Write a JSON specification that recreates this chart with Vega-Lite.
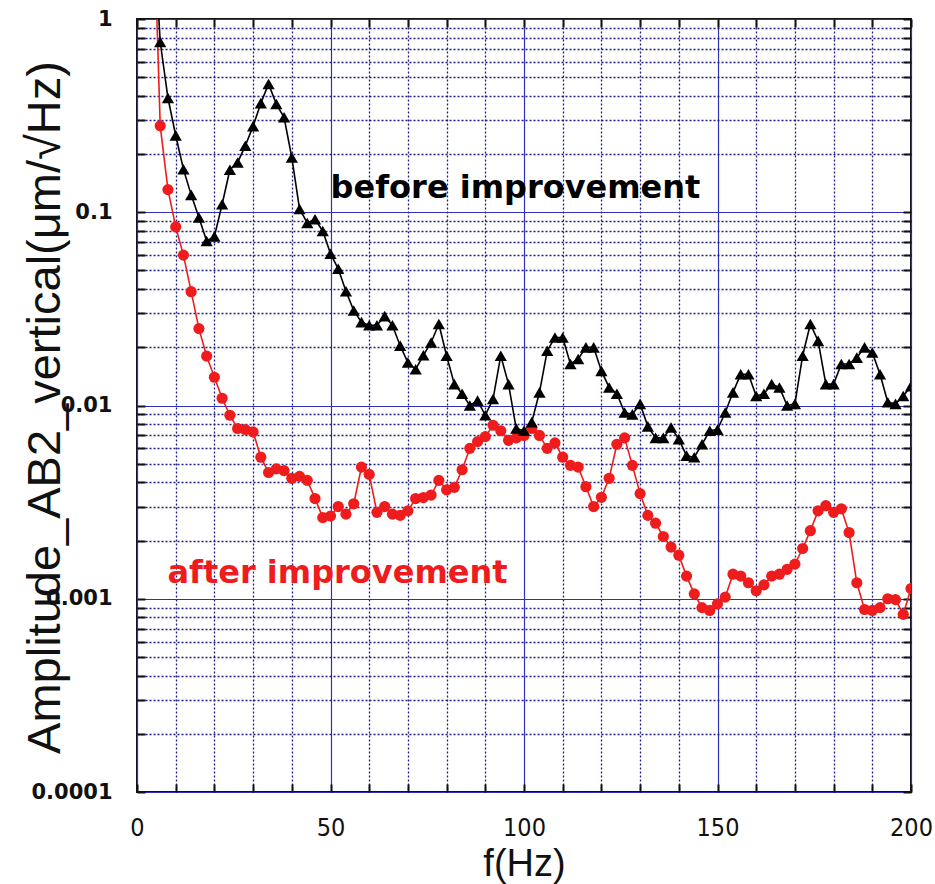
{
  "$schema": "https://vega.github.io/schema/vega-lite/v6.json",
  "width": 774,
  "height": 773,
  "autosize": {"type": "none"},
  "padding": {"left": 137, "top": 19, "right": 24, "bottom": 92},
  "background": "white",
  "config": {"view": {"stroke": "#111111", "strokeWidth": 2}},
  "datasets": {
    "spectra": [
      {"series":"after","f":4,"amp":5.5},{"series":"after","f":6,"amp":0.28},{"series":"after","f":8,"amp":0.131},{"series":"after","f":10,"amp":0.084},{"series":"after","f":12,"amp":0.06},{"series":"after","f":14,"amp":0.0388},{"series":"after","f":16,"amp":0.025},{"series":"after","f":18,"amp":0.018},{"series":"after","f":20,"amp":0.014},{"series":"after","f":22,"amp":0.0109},{"series":"after","f":24,"amp":0.0089},{"series":"after","f":26,"amp":0.0076},{"series":"after","f":28,"amp":0.0075},{"series":"after","f":30,"amp":0.0073},{"series":"after","f":32,"amp":0.0054},{"series":"after","f":34,"amp":0.0045},{"series":"after","f":36,"amp":0.0047},{"series":"after","f":38,"amp":0.0046},{"series":"after","f":40,"amp":0.0042},{"series":"after","f":42,"amp":0.0043},{"series":"after","f":44,"amp":0.0041},{"series":"after","f":46,"amp":0.0033},{"series":"after","f":48,"amp":0.00263},{"series":"after","f":50,"amp":0.00268},{"series":"after","f":52,"amp":0.003},{"series":"after","f":54,"amp":0.00274},{"series":"after","f":56,"amp":0.0031},{"series":"after","f":58,"amp":0.0048},{"series":"after","f":60,"amp":0.0044},{"series":"after","f":62,"amp":0.0028},{"series":"after","f":64,"amp":0.003},{"series":"after","f":66,"amp":0.00274},{"series":"after","f":68,"amp":0.0027},{"series":"after","f":70,"amp":0.00285},{"series":"after","f":72,"amp":0.0033},{"series":"after","f":74,"amp":0.00334},{"series":"after","f":76,"amp":0.00344},{"series":"after","f":78,"amp":0.0041},{"series":"after","f":80,"amp":0.00366},{"series":"after","f":82,"amp":0.00377},{"series":"after","f":84,"amp":0.00465},{"series":"after","f":86,"amp":0.006},{"series":"after","f":88,"amp":0.0065},{"series":"after","f":90,"amp":0.0069},{"series":"after","f":92,"amp":0.0079},{"series":"after","f":94,"amp":0.0074},{"series":"after","f":96,"amp":0.0066},{"series":"after","f":98,"amp":0.0068},{"series":"after","f":100,"amp":0.007},{"series":"after","f":102,"amp":0.0076},{"series":"after","f":104,"amp":0.007},{"series":"after","f":106,"amp":0.006},{"series":"after","f":108,"amp":0.0064},{"series":"after","f":110,"amp":0.0054},{"series":"after","f":112,"amp":0.0049},{"series":"after","f":114,"amp":0.0048},{"series":"after","f":116,"amp":0.0038},{"series":"after","f":118,"amp":0.003},{"series":"after","f":120,"amp":0.00335},{"series":"after","f":122,"amp":0.0042},{"series":"after","f":124,"amp":0.0063},{"series":"after","f":126,"amp":0.0068},{"series":"after","f":128,"amp":0.0049},{"series":"after","f":130,"amp":0.0035},{"series":"after","f":132,"amp":0.0027},{"series":"after","f":134,"amp":0.00246},{"series":"after","f":136,"amp":0.0021},{"series":"after","f":138,"amp":0.00185},{"series":"after","f":140,"amp":0.00168},{"series":"after","f":142,"amp":0.00131},{"series":"after","f":144,"amp":0.00106},{"series":"after","f":146,"amp":0.0009},{"series":"after","f":148,"amp":0.00087},{"series":"after","f":150,"amp":0.00094},{"series":"after","f":152,"amp":0.00102},{"series":"after","f":154,"amp":0.00134},{"series":"after","f":156,"amp":0.00131},{"series":"after","f":158,"amp":0.00121},{"series":"after","f":160,"amp":0.0011},{"series":"after","f":162,"amp":0.00118},{"series":"after","f":164,"amp":0.00131},{"series":"after","f":166,"amp":0.00134},{"series":"after","f":168,"amp":0.00142},{"series":"after","f":170,"amp":0.00151},{"series":"after","f":172,"amp":0.00182},{"series":"after","f":174,"amp":0.00225},{"series":"after","f":176,"amp":0.00285},{"series":"after","f":178,"amp":0.00303},{"series":"after","f":180,"amp":0.0028},{"series":"after","f":182,"amp":0.00292},{"series":"after","f":184,"amp":0.0022},{"series":"after","f":186,"amp":0.00121},{"series":"after","f":188,"amp":0.00088},{"series":"after","f":190,"amp":0.00087},{"series":"after","f":192,"amp":0.0009},{"series":"after","f":194,"amp":0.001},{"series":"after","f":196,"amp":0.00099},{"series":"after","f":198,"amp":0.00083},{"series":"after","f":200,"amp":0.00113},
      {"series":"before","f":4,"amp":3.8},{"series":"before","f":6,"amp":0.76},{"series":"before","f":8,"amp":0.39},{"series":"before","f":10,"amp":0.25},{"series":"before","f":12,"amp":0.167},{"series":"before","f":14,"amp":0.123},{"series":"before","f":16,"amp":0.094},{"series":"before","f":18,"amp":0.071},{"series":"before","f":20,"amp":0.075},{"series":"before","f":22,"amp":0.11},{"series":"before","f":24,"amp":0.166},{"series":"before","f":26,"amp":0.181},{"series":"before","f":28,"amp":0.221},{"series":"before","f":30,"amp":0.279},{"series":"before","f":32,"amp":0.367},{"series":"before","f":34,"amp":0.461},{"series":"before","f":36,"amp":0.363},{"series":"before","f":38,"amp":0.31},{"series":"before","f":40,"amp":0.192},{"series":"before","f":42,"amp":0.104},{"series":"before","f":44,"amp":0.088},{"series":"before","f":46,"amp":0.092},{"series":"before","f":48,"amp":0.08},{"series":"before","f":50,"amp":0.061},{"series":"before","f":52,"amp":0.051},{"series":"before","f":54,"amp":0.039},{"series":"before","f":56,"amp":0.031},{"series":"before","f":58,"amp":0.027},{"series":"before","f":60,"amp":0.026},{"series":"before","f":62,"amp":0.026},{"series":"before","f":64,"amp":0.029},{"series":"before","f":66,"amp":0.026},{"series":"before","f":68,"amp":0.0204},{"series":"before","f":70,"amp":0.0167},{"series":"before","f":72,"amp":0.0154},{"series":"before","f":74,"amp":0.0182},{"series":"before","f":76,"amp":0.0212},{"series":"before","f":78,"amp":0.0264},{"series":"before","f":80,"amp":0.0181},{"series":"before","f":82,"amp":0.0129},{"series":"before","f":84,"amp":0.0115},{"series":"before","f":86,"amp":0.01},{"series":"before","f":88,"amp":0.0106},{"series":"before","f":90,"amp":0.0089},{"series":"before","f":92,"amp":0.0108},{"series":"before","f":94,"amp":0.0181},{"series":"before","f":96,"amp":0.0129},{"series":"before","f":98,"amp":0.0076},{"series":"before","f":100,"amp":0.0074},{"series":"before","f":102,"amp":0.0082},{"series":"before","f":104,"amp":0.0117},{"series":"before","f":106,"amp":0.0192},{"series":"before","f":108,"amp":0.0225},{"series":"before","f":110,"amp":0.0225},{"series":"before","f":112,"amp":0.0164},{"series":"before","f":114,"amp":0.0174},{"series":"before","f":116,"amp":0.02},{"series":"before","f":118,"amp":0.02},{"series":"before","f":120,"amp":0.0151},{"series":"before","f":122,"amp":0.0124},{"series":"before","f":124,"amp":0.0115},{"series":"before","f":126,"amp":0.0092},{"series":"before","f":128,"amp":0.009},{"series":"before","f":130,"amp":0.0102},{"series":"before","f":132,"amp":0.0078},{"series":"before","f":134,"amp":0.0068},{"series":"before","f":136,"amp":0.0068},{"series":"before","f":138,"amp":0.0077},{"series":"before","f":140,"amp":0.0067},{"series":"before","f":142,"amp":0.0055},{"series":"before","f":144,"amp":0.0054},{"series":"before","f":146,"amp":0.0063},{"series":"before","f":148,"amp":0.0074},{"series":"before","f":150,"amp":0.0075},{"series":"before","f":152,"amp":0.0092},{"series":"before","f":154,"amp":0.0117},{"series":"before","f":156,"amp":0.0145},{"series":"before","f":158,"amp":0.0145},{"series":"before","f":160,"amp":0.0112},{"series":"before","f":162,"amp":0.0115},{"series":"before","f":164,"amp":0.0129},{"series":"before","f":166,"amp":0.0124},{"series":"before","f":168,"amp":0.01},{"series":"before","f":170,"amp":0.0102},{"series":"before","f":172,"amp":0.0181},{"series":"before","f":174,"amp":0.0264},{"series":"before","f":176,"amp":0.0216},{"series":"before","f":178,"amp":0.0129},{"series":"before","f":180,"amp":0.0129},{"series":"before","f":182,"amp":0.0164},{"series":"before","f":184,"amp":0.0164},{"series":"before","f":186,"amp":0.0177},{"series":"before","f":188,"amp":0.02},{"series":"before","f":190,"amp":0.0188},{"series":"before","f":192,"amp":0.0145},{"series":"before","f":194,"amp":0.0104},{"series":"before","f":196,"amp":0.0102},{"series":"before","f":198,"amp":0.0112},{"series":"before","f":200,"amp":0.0126}
    ],
    "labels": [
      {"series": "before", "f": 97.8, "amp": 0.1185, "text": "before improvement"},
      {"series": "after", "f": 51.8, "amp": 0.00121, "text": "after improvement"}
    ]
  },
  "layer": [
    {
      "data": {"name": "spectra"},
      "mark": {"type": "line", "clip": true, "strokeWidth": 1.6},
      "encoding": {
        "x": {
          "field": "f", "type": "quantitative",
          "scale": {"domain": [0, 200], "nice": false, "zero": false},
          "axis": {
            "orient": "bottom",
            "values": [0,10,20,30,40,50,60,70,80,90,100,110,120,130,140,150,160,170,180,190,200],
            "domain": false,
            "grid": true,
            "gridColor": {"condition": {"test": "datum.value % 50 === 0", "value": "#3030b8"}, "value": "#1e1e80"},
            "gridDash": {"condition": {"test": "datum.value % 50 === 0", "value": []}, "value": [2, 2]},
            "gridWidth": {"condition": {"test": "datum.value % 50 === 0", "value": 1.2}, "value": 1.3},
            "ticks": true, "tickSize": -8, "tickWidth": 2, "tickColor": "#111111",
            "labelExpr": "datum.value % 50 === 0 ? datum.label : ''",
            "labelFont": "Liberation Sans Narrow, DejaVu Sans Condensed, sans-serif",
            "labelFontSize": 25, "labelColor": "#111111",
            "labelPadding": 43, "labelBaseline": "middle", "labelFlush": false, "labelOverlap": false,
            "title": "f(Hz)",
            "titleFont": "Liberation Sans, Arial, sans-serif", "titleFontSize": 38, "titleFontWeight": "normal", "titleColor": "#111111",
            "titleX": 387, "titleY": 72, "titleBaseline": "middle", "titleAlign": "center"
          }
        },
        "y": {
          "field": "amp", "type": "quantitative",
          "scale": {"type": "log", "domain": [0.0001, 1], "nice": false},
          "axis": {
            "orient": "left",
            "values": [0.0001,0.0002,0.0003,0.0004,0.0005,0.0006,0.0007,0.0008,0.0009,0.001,0.002,0.003,0.004,0.005,0.006,0.007,0.008,0.009,0.01,0.02,0.03,0.04,0.05,0.06,0.07,0.08,0.09,0.1,0.2,0.3,0.4,0.5,0.6,0.7,0.8,0.9,1],
            "format": "~g",
            "domain": false,
            "grid": true,
            "gridColor": {"condition": {"test": "abs(log(datum.value)/LN10 - round(log(datum.value)/LN10)) < 0.001", "value": "#3030b8"}, "value": "#1e1e80"},
            "gridDash": {"condition": {"test": "abs(log(datum.value)/LN10 - round(log(datum.value)/LN10)) < 0.001", "value": []}, "value": [2, 2]},
            "gridWidth": {"condition": {"test": "abs(log(datum.value)/LN10 - round(log(datum.value)/LN10)) < 0.001", "value": 1.2}, "value": 1.3},
            "ticks": true, "tickSize": -8, "tickWidth": 2, "tickColor": "#111111",
            "labelExpr": "abs(log(datum.value)/LN10 - round(log(datum.value)/LN10)) < 0.001 ? datum.label : ''",
            "labelFont": "DejaVu Sans, sans-serif", "labelFontWeight": "bold",
            "labelFontSize": 21, "labelColor": "#111111",
            "labelPadding": 33, "labelOverlap": false, "labelFlush": false,
            "title": "Amplitude_AB2_vertical(μm/√Hz)",
            "titleFont": "Liberation Sans, Arial, sans-serif", "titleFontSize": 47, "titleFontWeight": "normal", "titleColor": "#111111",
            "titleAngle": -90, "titleX": -92, "titleY": 388, "titleBaseline": "middle", "titleAlign": "center"
          }
        },
        "color": {"field": "series", "type": "nominal", "scale": {"domain": ["before", "after"], "range": ["#000000", "#ee1c1c"]}, "legend": null}
      }
    },
    {
      "data": {"name": "spectra"},
      "mark": {"type": "point", "filled": true, "opacity": 1, "clip": true},
      "encoding": {
        "x": {
          "field": "f", "type": "quantitative",
          "scale": {"domain": [0, 200], "nice": false, "zero": false},
          "axis": {
            "orient": "top",
            "values": [0,10,20,30,40,50,60,70,80,90,100,110,120,130,140,150,160,170,180,190,200],
            "domain": false, "grid": false, "labels": false,
            "ticks": true, "tickSize": -8, "tickWidth": 2, "tickColor": "#111111",
            "title": null
          }
        },
        "y": {
          "field": "amp", "type": "quantitative",
          "scale": {"type": "log", "domain": [0.0001, 1], "nice": false},
          "axis": {
            "orient": "right",
            "values": [0.0001,0.0002,0.0003,0.0004,0.0005,0.0006,0.0007,0.0008,0.0009,0.001,0.002,0.003,0.004,0.005,0.006,0.007,0.008,0.009,0.01,0.02,0.03,0.04,0.05,0.06,0.07,0.08,0.09,0.1,0.2,0.3,0.4,0.5,0.6,0.7,0.8,0.9,1],
            "domain": false, "grid": false, "labels": false,
            "ticks": true, "tickSize": -8, "tickWidth": 2, "tickColor": "#111111",
            "title": null
          }
        },
        "color": {"field": "series", "type": "nominal", "scale": {"domain": ["before", "after"], "range": ["#000000", "#ee1c1c"]}, "legend": null},
        "shape": {"field": "series", "type": "nominal", "scale": {"domain": ["before", "after"], "range": ["triangle-up", "circle"]}, "legend": null},
        "size": {"field": "series", "type": "nominal", "scale": {"domain": ["before", "after"], "range": [150, 125]}, "legend": null}
      }
    },
    {
      "data": {"name": "labels"},
      "mark": {"type": "text", "font": "DejaVu Sans, sans-serif", "fontWeight": "bold", "fontSize": 32, "align": "center", "baseline": "alphabetic"},
      "encoding": {
        "x": {"field": "f", "type": "quantitative", "axis": null},
        "y": {"field": "amp", "type": "quantitative", "axis": null},
        "text": {"field": "text", "type": "nominal"},
        "color": {"field": "series", "type": "nominal", "scale": {"domain": ["before", "after"], "range": ["#000000", "#e21d24"]}, "legend": null}
      }
    }
  ],
  "resolve": {"axis": {"x": "independent", "y": "independent"}}
}
